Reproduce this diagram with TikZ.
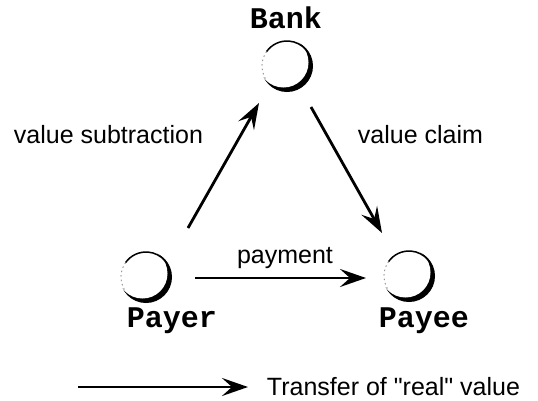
\documentclass[tikz,border=0pt]{standalone}
\usepackage{fontspec}
\setmainfont{Liberation Sans}[Ligatures=TeXOff]
\setmonofont{Liberation Mono}
\usetikzlibrary{arrows.meta,calc}

\tikzset{
  party/.style={circle, minimum size=52pt, inner sep=0pt},
  partyname/.style={anchor=base, inner sep=0.75pt, font=\fontsize{30}{30}\selectfont\ttfamily\bfseries},
  flowlabel/.style={anchor=base west, inner sep=0.75pt, font=\fontsize{25}{25}\selectfont},
  flow/.style={line width=2.8pt, -{Stealth[length=26pt, width=18pt, inset=10pt]}},
}

\begin{document}
\begin{tikzpicture}[x=1pt,y=1pt,yscale=-1,xscale=1]
\useasboundingbox (0,0) rectangle (538,400);

% Parties
    \node[party] (bank) at (287,66) {};
    \node[party] (payer) at (146,277) {};
    \node[party] (payee) at (409,276) {};

% crescents
    \foreach \p in {bank,payer,payee}{
      \fill (\p) circle (26);
      \fill[white] ($(\p)+(-3.5,-3.5)$) circle (25);
      \draw[line width=1.5pt] (\p) ++(215:25) arc[start angle=215, end angle=320, radius=25];
      \draw[gray, line width=0.8pt, dash pattern=on 1.5pt off 3pt] (\p) ++(150:25) arc[start angle=150, end angle=215, radius=25];
    }

% Text Node
    \node[partyname] (banktxt) at (286,28) {Bank};
    \node[partyname] (payertxt) at (172,327) {Payer};
    \node[partyname] (payeetxt) at (424,327) {Payee};

% Straight Lines
    \draw[flow] ([shift={(42,-49)}]payer.center) -- ([shift={(-28,37)}]bank.center);
    \draw[flow] ([shift={(24,41)}]bank.center) -- ([shift={(-27,-43)}]payee.center);
    \draw[flow] ([shift={(49,1)}]payer.center) -- ([shift={(-43,2)}]payee.center);

% Text Node
    \node[flowlabel] (subtxt) at (13,143) {value subtraction};
    \node[flowlabel] (claimtxt) at (357,143) {value claim};
    \node[flowlabel, anchor=base] (paytxt) at (285,263) {payment};

% Legend
    \coordinate (legstart) at (78,387);
    \coordinate (legend) at (248,387);
    \draw[flow] (legstart) -- (legend);
    \node[flowlabel, anchor=west] (legtxt) at (266,387) {Transfer of "real" value};

\end{tikzpicture}
\end{document}
